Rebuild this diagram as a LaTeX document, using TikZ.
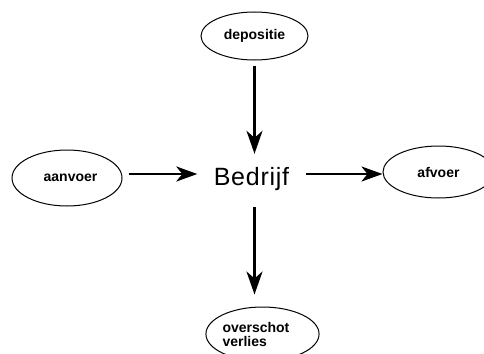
\documentclass[tikz,border=0pt]{standalone}
\usepackage{fontspec}
\setmainfont{Liberation Sans}
\usetikzlibrary{arrows.meta,shapes.geometric}
\tikzset{
  blob/.style={draw, ellipse, line width=1pt, inner sep=0pt, font=\fontsize{14}{14}\selectfont\bfseries},
  arr/.style={line width=2.5pt, -{Stealth[length=23pt,width=16pt,inset=7pt]}},
  harr/.style={line width=2.5pt, -{Stealth[length=21pt,width=15pt,inset=6pt]}},
}
\begin{document}
\begin{tikzpicture}[x=1pt,y=-1pt]
\useasboundingbox (0,0) rectangle (484,353);
\node[blob, minimum width=107pt, minimum height=48pt] (dep) at (254.5,36) {depositie};
\node[blob, minimum width=110pt, minimum height=56pt] (aan) at (67,178) {\hspace*{7pt}aanvoer};
\node[blob, minimum width=111pt, minimum height=52pt] (afv) at (438.5,172) {afvoer};
\node[blob, minimum width=109pt, minimum height=54pt, text width=80pt, align=left] (ovs) at (262.5,334) {overschot\\verlies};
\node[inner sep=0pt, minimum width=108pt, text height=24pt, text depth=2pt,
      font=\fontsize{25}{25}\selectfont\addfontfeatures{LetterSpace=3}] (bed) at (251.5,174) {Bedrijf};
\draw[arr, shorten <=5pt, shorten >=7pt] (dep.south) -- (dep.south |- bed.north);
\draw[arr, shorten <=20pt, shorten >=12pt] (dep.south |- bed.south) -- (dep.south |- ovs.north);
\draw[harr, shorten <=6pt] (aan.east |- bed.west) -- (bed.west);
\draw[harr] (bed.east) -- (bed.east -| afv.west);
\end{tikzpicture}
\end{document}
